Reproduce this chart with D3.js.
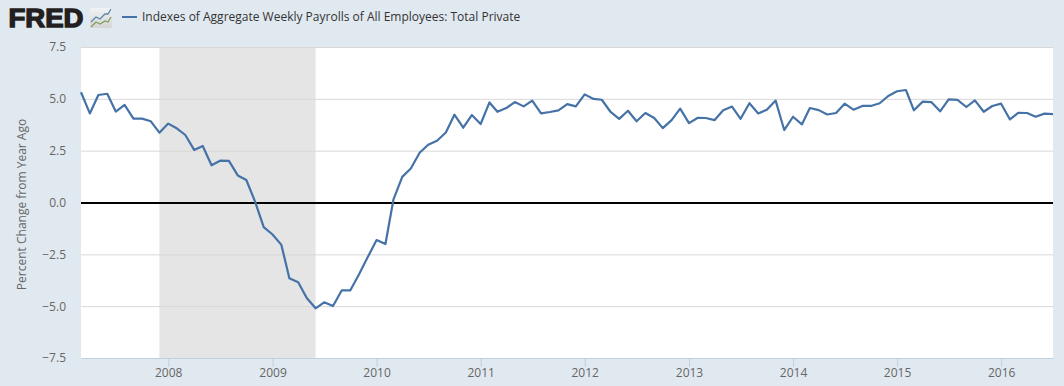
<!DOCTYPE html>
<html>

<head>
  <meta charset="utf-8">
  <title>FRED - Aggregate Weekly Payrolls</title>
  <script src="https://d3js.org/d3.v7.min.js"></script>
  <style>
    html, body { margin: 0; padding: 0; background: #e1e9f0; }
    svg { display: block; font-family: "Open Sans", sans-serif; }
  </style>
</head>

<body>
  <script>
    const seriesName = 'Indexes of Aggregate Weekly Payrolls of All Employees: Total Private'
    const yTitle = 'Percent Change from Year Ago'
    const yTicks = [-7.5, -5, -2.5, 0, 2.5, 5, 7.5]
    const xTickYears = [2008, 2009, 2010, 2011, 2012, 2013, 2014, 2015, 2016]
    const recession = ['2007-12-01', '2009-06-01']
    const firstMonth = '2007-03-01'
    // monthly
    const values = [
      5.34, 4.32, 5.21, 5.27, 4.41, 4.73, 4.07, 4.07, 3.94, 3.39,
      3.83, 3.59, 3.28, 2.56, 2.75, 1.82, 2.04, 2.03, 1.33, 1.11, 0.05, -1.16,
      -1.52, -2.02, -3.63, -3.82, -4.58, -5.08, -4.79, -4.97, -4.21, -4.21, -3.42, -2.61,
      -1.79, -1.98, 0.16, 1.26, 1.66, 2.42, 2.81, 3.0, 3.40, 4.26, 3.63, 4.24,
      3.81, 4.85, 4.40, 4.58, 4.87, 4.66, 4.94, 4.32, 4.39, 4.47, 4.77, 4.66,
      5.24, 5.02, 4.98, 4.39, 4.06, 4.45, 3.94, 4.34, 4.10, 3.61, 4.0, 4.55,
      3.85, 4.11, 4.10, 4.0, 4.47, 4.65, 4.06, 4.81, 4.32, 4.5, 4.94, 3.52,
      4.16, 3.79, 4.58, 4.48, 4.27, 4.34, 4.79, 4.5, 4.68, 4.68, 4.81, 5.16,
      5.39, 5.45, 4.47, 4.89, 4.87, 4.42, 5.0, 4.97, 4.63, 4.95, 4.40, 4.68,
      4.79, 4.03, 4.35, 4.34, 4.16, 4.31, 4.29
    ]

    const width = 1064, height = 386
    const margin = { left: 81, right: 11, top: 47, bottom: 28 }
    const blue = '#4572a7', textColor = '#666666'

    const months = values.map((d, i) => d3.utcMonth.offset(new Date(firstMonth), i))

    const svg = d3.select('body').append('svg')
      .attr('width', width)
      .attr('height', height)

    const xScale = d3.scaleUtc()
      .domain(d3.extent(months))
      .range([margin.left, width - margin.right])

    const yScale = d3.scaleLinear()
      .domain([-7.5, 7.5])
      .range([height - margin.bottom + 0.5, margin.top + 0.5])

    // plot background
    svg.append('rect')
      .attr('x', margin.left)
      .attr('y', margin.top)
      .attr('width', width - margin.left - margin.right)
      .attr('height', height - margin.top - margin.bottom)
      .attr('fill', '#ffffff')

    // recession band
    svg.append('rect')
      .attr('x', xScale(new Date(recession[0])))
      .attr('y', margin.top)
      .attr('width', xScale(new Date(recession[1])) - xScale(new Date(recession[0])))
      .attr('height', height - margin.top - margin.bottom)
      .attr('fill', '#e5e5e5')

    // grid + y labels
    const yAxis = d3.axisLeft(yScale)
      .tickValues(yTicks)
      .tickFormat(d3.format('.1f'))
      .tickSize(-(width - margin.left - margin.right))
      .tickPadding(15)
      .offset(0)

    const gy = svg.append('g')
      .attr('transform', `translate(${margin.left},0)`)
      .call(yAxis)
    gy.select('.domain').remove()
    gy.selectAll('line').attr('stroke', '#d8d8d8')
    gy.selectAll('text')
      .attr('fill', textColor)
      .attr('font-size', 12)
      .attr('font-family', '"Open Sans", sans-serif')

    // x axis
    const xAxis = d3.axisBottom(xScale)
      .tickValues(xTickYears.map(y => new Date(Date.UTC(y, 0, 1))))
      .tickFormat(d3.utcFormat('%Y'))
      .tickSize(9)
      .tickPadding(1)
      .tickSizeOuter(0)

    const gx = svg.append('g')
      .attr('transform', `translate(0,${height - margin.bottom})`)
      .call(xAxis)
    gx.select('.domain').attr('stroke', '#c0d0e0')
    gx.selectAll('line').attr('stroke', '#c0d0e0')
    gx.selectAll('text')
      .attr('fill', textColor)
      .attr('font-size', 12)
      .attr('font-family', '"Open Sans", sans-serif')

    // zero line
    svg.append('line')
      .attr('x1', margin.left)
      .attr('x2', width - margin.right)
      .attr('y1', yScale(0))
      .attr('y2', yScale(0))
      .attr('stroke', '#000000')
      .attr('stroke-width', 2)

    const line = d3.line()
      .x((d, i) => xScale(months[i]))
      .y(d => yScale(d))

    svg.append('path')
      .datum(values)
      .attr('d', line)
      .attr('fill', 'none')
      .attr('stroke', blue)
      .attr('stroke-width', 2.2)
      .attr('stroke-linejoin', 'round')

    // y title
    svg.append('text')
      .attr('transform', `translate(26,${(margin.top + height - margin.bottom) / 2 + 2}) rotate(-90)`)
      .attr('text-anchor', 'middle')
      .attr('font-size', 12)
      .attr('fill', textColor)
      .text(yTitle)

    // legend
    svg.append('line')
      .attr('x1', 122).attr('x2', 137)
      .attr('y1', 17).attr('y2', 17)
      .attr('stroke', blue)
      .attr('stroke-width', 2)
    svg.append('text')
      .attr('x', 142)
      .attr('y', 21)
      .attr('font-size', 12)
      .attr('fill', '#333333')
      .text(seriesName)

    // logo
    svg.append('text')
      .attr('x', 8.5)
      .attr('y', 27)
      .attr('font-family', '"Liberation Sans", sans-serif')
      .attr('font-weight', 700)
      .attr('font-size', 25.5)
      .attr('stroke', '#231f20')
      .attr('stroke-width', 1.3)
      .attr('fill', '#231f20')
      .attr('textLength', 75)
      .attr('lengthAdjust', 'spacingAndGlyphs')
      .text('FRED')

    const grad = svg.append('defs').append('linearGradient')
      .attr('id', 'logoBg')
      .attr('x1', 0).attr('x2', 0).attr('y1', 0).attr('y2', 1)
    grad.append('stop').attr('offset', 0).attr('stop-color', '#f0f2f4')
    grad.append('stop').attr('offset', 1).attr('stop-color', '#d4d4d4')

    const logo = svg.append('g').attr('transform', 'translate(90,8)')
    logo.append('rect')
      .attr('width', 22).attr('height', 20)
      .attr('rx', 2)
      .attr('fill', 'url(#logoBg)')
    logo.append('path')
      .attr('d', 'M1,14 L6,9 L10,11 L15,6 L18,6 L21,1')
      .attr('fill', 'none').attr('stroke', '#5b86ad').attr('stroke-width', 1.3)
    logo.append('path')
      .attr('d', 'M1,19 L6,14 L10,16 L15,13 L18,14 L21,9')
      .attr('fill', 'none').attr('stroke', '#7da05a').attr('stroke-width', 1.3)
  </script>
</body>

</html>
